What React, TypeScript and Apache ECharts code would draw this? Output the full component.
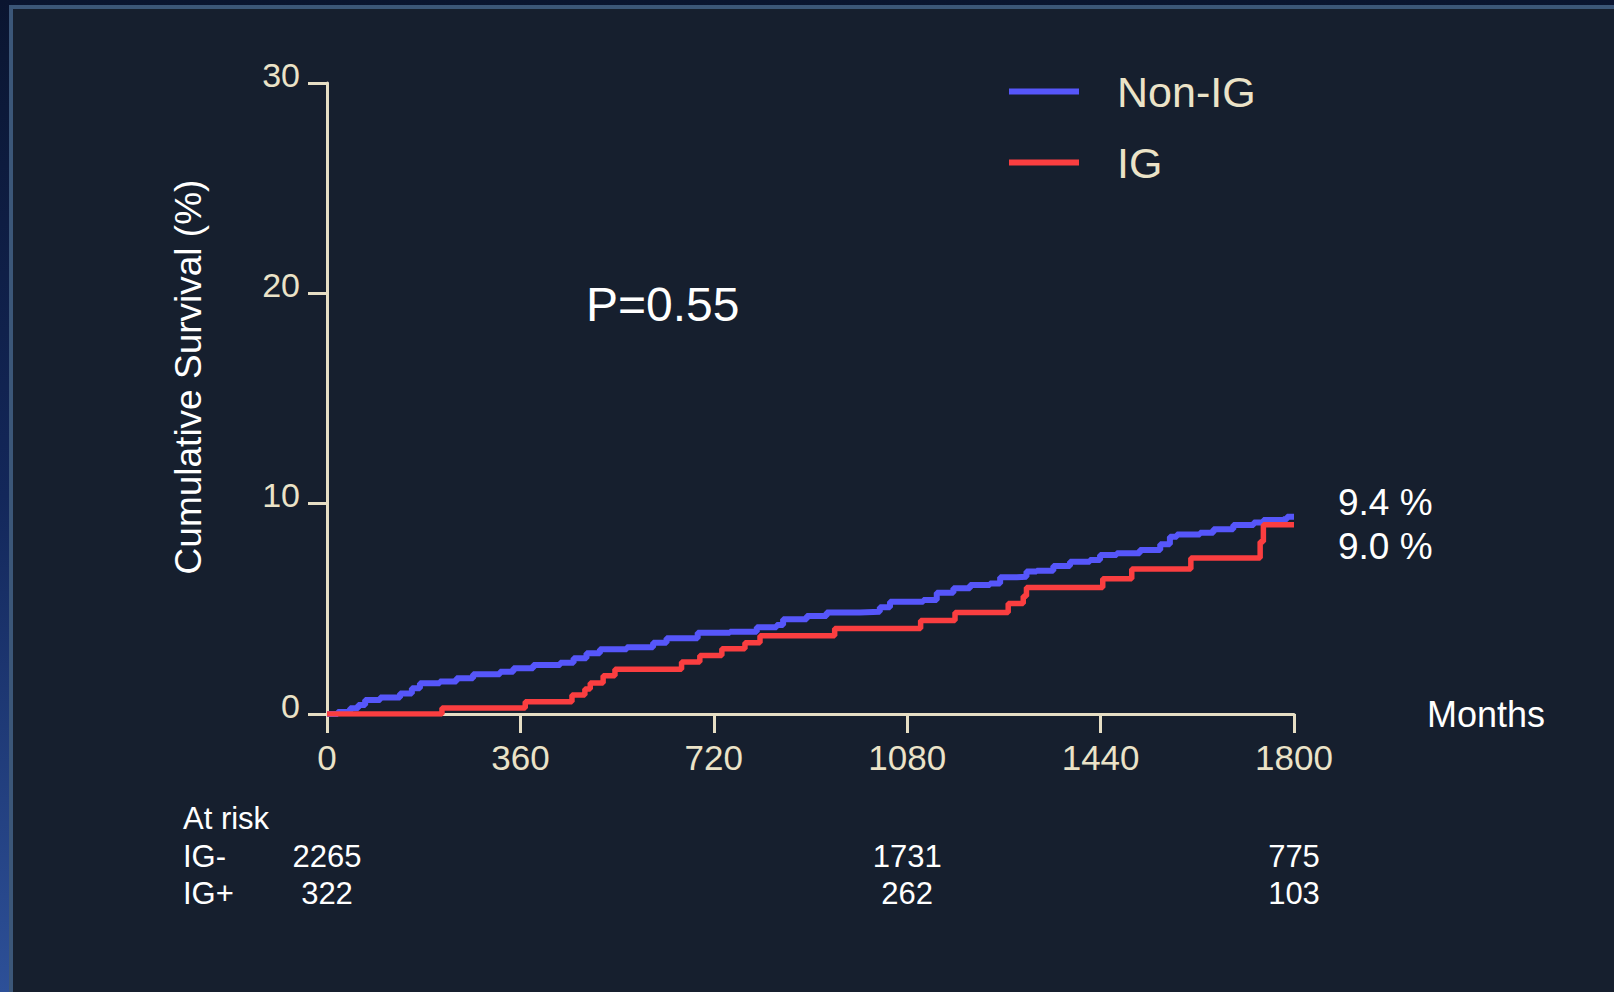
import React, { useEffect, useRef } from "react";
import * as echarts from "echarts";

// ---- data ----
const xTickStep = 360;
const xMax = 1800;
const yMax = 30;
const yTickStep = 10;

const seriesNames = ["Non-IG", "IG"];

// Non-IG (IG-) cumulative curve: [months, %]
const nonIgMonths = [0, 20, 43, 58, 71, 99, 136, 158, 173, 210, 241, 272, 322, 347, 384, 434, 459, 483, 508, 558, 607, 632, 690, 750, 800, 837, 849, 893, 930, 992, 1029, 1048, 1110, 1135, 1166, 1197, 1234, 1253, 1284, 1302, 1321, 1352, 1383, 1420, 1439, 1470, 1513, 1551, 1569, 1582, 1625, 1650, 1687, 1725, 1743, 1780, 1787, 1800];
const nonIgPct = [0, 0.1, 0.27, 0.43, 0.67, 0.79, 0.98, 1.22, 1.46, 1.54, 1.70, 1.89, 2.01, 2.17, 2.33, 2.44, 2.65, 2.89, 3.08, 3.17, 3.39, 3.60, 3.86, 3.91, 4.12, 4.23, 4.50, 4.66, 4.83, 4.86, 5.07, 5.34, 5.42, 5.77, 5.98, 6.13, 6.21, 6.50, 6.53, 6.77, 6.81, 7.04, 7.24, 7.32, 7.56, 7.64, 7.80, 8.07, 8.43, 8.54, 8.62, 8.78, 8.99, 9.10, 9.22, 9.26, 9.38, 9.38];

// IG (IG+) cumulative curve: [months, %]
const igMonths = [0, 214, 369, 456, 480, 490, 514, 536, 660, 694, 735, 778, 806, 945, 1105, 1169, 1268, 1296, 1302, 1444, 1498, 1608, 1737, 1743, 1800];
const igPct = [0, 0.28, 0.58, 0.90, 1.19, 1.47, 1.82, 2.13, 2.47, 2.78, 3.10, 3.39, 3.72, 4.07, 4.44, 4.82, 5.25, 5.60, 6.01, 6.43, 6.89, 7.42, 8.19, 9.0, 9.0];

// at-risk table
const atRiskTitle = "At risk";
const atRiskRowLabels = ["IG-", "IG+"];
const atRiskMonths = [0, 1080, 1800];
const atRiskIgNeg = [2265, 1731, 775];
const atRiskIgPos = [322, 262, 103];

const finalLabels = ["9.4 %", "9.0 %"];
const pValueText = "P=0.55";
const yAxisTitle = "Cumulative Survival (%)";
const xAxisTitle = "Months";

// ---- styles ----
const FONT = "'Liberation Sans', Arial, sans-serif";
const CREAM = "#ebe3c8";
const AXIS = "#e6dec4";
const WHITE = "#ffffff";
const BLUE = "#5656fa";
const RED = "#fa3e40";

export default function App() {
  const ref = useRef<HTMLDivElement>(null);

  useEffect(() => {
    if (!ref.current) return;
    const chart = echarts.init(ref.current, null, { renderer: "svg" });

    const pairs = (xs: number[], ys: number[]) => xs.map((x, i) => [x, ys[i]]);

    const baseGraphic: any[] = [
      {
        type: "rect",
        z: -100,
        silent: true,
        shape: { x: 0, y: 0, width: 1614, height: 992 },
        style: {
          fill: new echarts.graphic.LinearGradient(0, 0, 0, 1, [
            { offset: 0, color: "#0a1530" },
            { offset: 0.5, color: "#13275a" },
            { offset: 1, color: "#2d5098" },
          ]),
        },
      },
      {
        type: "rect",
        z: -99,
        silent: true,
        shape: { x: 11, y: 7, width: 1620, height: 1000 },
        style: { fill: "#161f2e", stroke: "#3b5678", lineWidth: 4 },
      },
      {
        type: "text",
        x: 188,
        y: 377,
        rotation: Math.PI / 2,
        style: {
          text: yAxisTitle,
          fill: WHITE,
          font: `37px ${FONT}`,
          align: "center",
          verticalAlign: "middle",
        },
      },
      {
        type: "text",
        x: 586,
        y: 304,
        style: {
          text: pValueText,
          fill: WHITE,
          font: `48px ${FONT}`,
          align: "left",
          verticalAlign: "middle",
        },
      },
      {
        type: "text",
        x: 1338,
        y: 502,
        style: { text: finalLabels[0], fill: WHITE, font: `37px ${FONT}`, align: "left", verticalAlign: "middle" },
      },
      {
        type: "text",
        x: 1338,
        y: 546,
        style: { text: finalLabels[1], fill: WHITE, font: `37px ${FONT}`, align: "left", verticalAlign: "middle" },
      },
      {
        type: "text",
        x: 183,
        y: 818,
        style: { text: atRiskTitle, fill: WHITE, font: `31px ${FONT}`, align: "left", verticalAlign: "middle" },
      },
      {
        type: "text",
        x: 183,
        y: 856,
        style: { text: atRiskRowLabels[0], fill: WHITE, font: `31px ${FONT}`, align: "left", verticalAlign: "middle" },
      },
      {
        type: "text",
        x: 183,
        y: 893,
        style: { text: atRiskRowLabels[1], fill: WHITE, font: `31px ${FONT}`, align: "left", verticalAlign: "middle" },
      },
    ];

    chart.setOption({
      animation: false,
      backgroundColor: "#0a1530",
      textStyle: { fontFamily: FONT },
      grid: { left: 327, right: 320, top: 83, bottom: 278, containLabel: false },
      legend: {
        orient: "vertical",
        left: 1009,
        top: 70,
        padding: 0,
        itemWidth: 70,
        itemHeight: 6,
        itemGap: 28,
        icon: "rect",
        data: seriesNames,
        textStyle: { color: CREAM, fontSize: 43, fontFamily: FONT, padding: [0, 0, 0, 33] },
      },
      xAxis: {
        type: "value",
        min: 0,
        max: xMax,
        interval: xTickStep,
        name: xAxisTitle,
        nameLocation: "end",
        nameGap: 133,
        nameTextStyle: { color: WHITE, fontSize: 36, fontFamily: FONT, verticalAlign: "middle", padding: [6, 0, 0, 0] },
        axisLine: { show: true, onZero: false, lineStyle: { color: AXIS, width: 3 } },
        axisTick: { show: true, length: 19, lineStyle: { color: AXIS, width: 3 } },
        axisLabel: {
          color: CREAM,
          fontSize: 35,
          fontFamily: FONT,
          margin: 26,
          formatter: (v: number) => String(v),
        },
        splitLine: { show: false },
      },
      yAxis: {
        type: "value",
        min: 0,
        max: yMax,
        interval: yTickStep,
        axisLine: { show: true, onZero: false, lineStyle: { color: AXIS, width: 3 } },
        axisTick: { show: true, length: 19, lineStyle: { color: AXIS, width: 3 } },
        axisLabel: {
          color: CREAM,
          fontSize: 34,
          fontFamily: FONT,
          margin: 27,
          verticalAlign: "bottom",
          lineHeight: 17,
          formatter: (v: number) => String(v),
        },
        splitLine: { show: false },
      },
      series: [
        {
          name: seriesNames[0],
          type: "line",
          step: "end",
          showSymbol: false,
          symbol: "none",
          color: BLUE,
          lineStyle: { color: BLUE, width: 6 },
          data: pairs(nonIgMonths, nonIgPct),
          z: 3,
        },
        {
          name: seriesNames[1],
          type: "line",
          step: "end",
          showSymbol: false,
          symbol: "none",
          color: RED,
          lineStyle: { color: RED, width: 5.5 },
          data: pairs(igMonths, igPct),
          z: 4,
        },
      ],
      graphic: baseGraphic,
    });

    const riskTexts: any[] = [];
    atRiskMonths.forEach((m, i) => {
      const px = chart.convertToPixel({ xAxisIndex: 0 }, m) as number;
      riskTexts.push({
        type: "text",
        x: px,
        y: 856,
        style: { text: String(atRiskIgNeg[i]), fill: WHITE, font: `31px ${FONT}`, align: "center", verticalAlign: "middle" },
      });
      riskTexts.push({
        type: "text",
        x: px,
        y: 893,
        style: { text: String(atRiskIgPos[i]), fill: WHITE, font: `31px ${FONT}`, align: "center", verticalAlign: "middle" },
      });
    });
    chart.setOption({ graphic: baseGraphic.concat(riskTexts) });

    return () => chart.dispose();
  }, []);

  return (
    <div
      ref={ref}
      style={{ position: "fixed", left: 0, top: 0, width: 1614, height: 992 }}
    />
  );
}
